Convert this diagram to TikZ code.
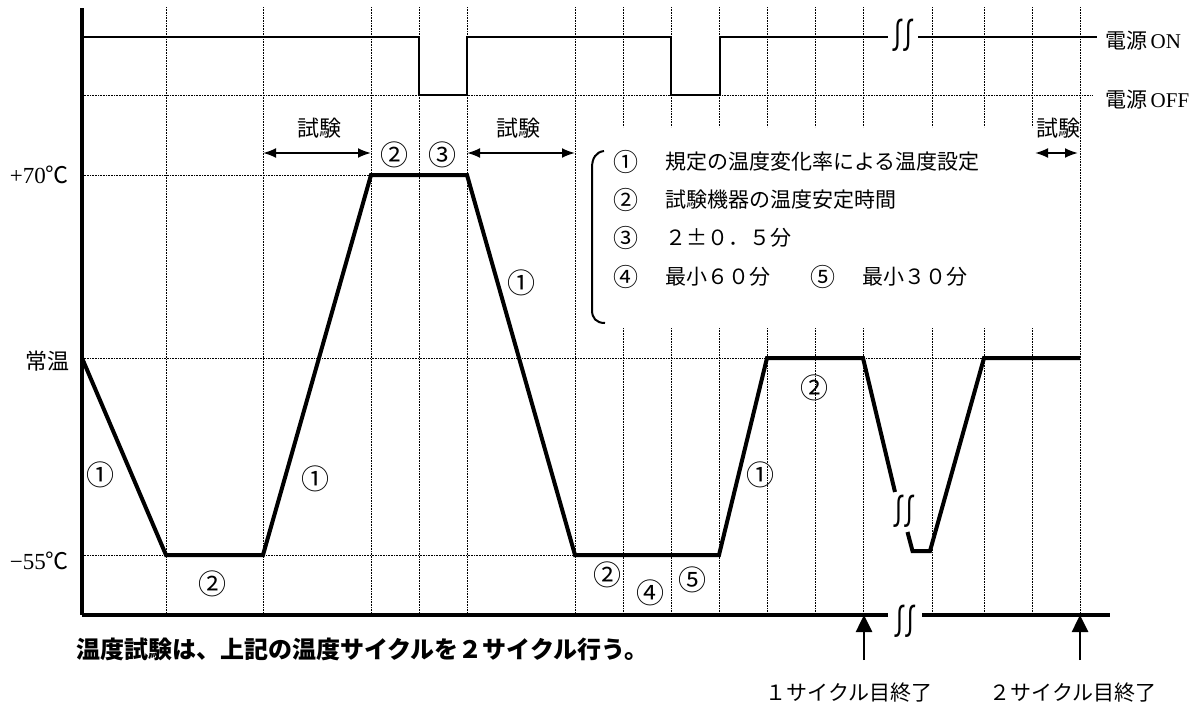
\documentclass[tikz,border=0pt]{standalone}
\usepackage{fontspec}
\setmainfont{Liberation Serif}
\newfontfamily\jp{Noto Sans CJK JP}
\usetikzlibrary{arrows.meta}
\tikzset{
  gridln/.style={line width=0.9pt, dash pattern=on 1pt off 0.6pt, black},
  thk/.style={line width=4pt, line join=miter},
  pwr/.style={line width=2.2pt, line join=miter},
  axisln/.style={line width=3.4pt},
  lbl/.style={inner sep=0pt, font=\jp\fontsize{21}{21}\selectfont},
  circ/.style={inner sep=0pt, font=\jp\fontsize{28}{28}\selectfont},
  lcirc/.style={inner sep=0pt, font=\jp\fontsize{25}{25}\selectfont},
  brk/.style={inner sep=0pt, font=\jp\fontsize{24}{24}\selectfont},
  dbl/.style={line width=2pt, {Latex[length=13pt,width=10pt]}-{Latex[length=13pt,width=10pt]}},
  uparr/.style={line width=2.6pt, -{Triangle[length=17pt,width=16pt]}},
}
\newcommand{\brkmark}{\scalebox{1.15}[1.45]{∬}}
\begin{document}
\begin{tikzpicture}[x=1pt,y=-1pt]
\useasboundingbox (0,0) rectangle (1202,704);
% vertical grid lines
\foreach \gx in {166,263,371,419,467,575,1080}
  \draw[gridln] (\gx,7) -- (\gx,615);
\foreach \gx in {623,671,719,767,815,863,932,984,1032}{
  \draw[gridln] (\gx,7) -- (\gx,127);
  \draw[gridln] (\gx,328) -- (\gx,615);}
% horizontal reference lines
\draw[gridln] (82,95) -- (1093,95);
\draw[gridln] (82,175) -- (371,175);
\draw[gridln] (82,358) -- (1080,358);
\draw[gridln] (82,555) -- (719,555);
% axes
\coordinate (ytop) at (82,8);
\coordinate (org) at (82,615);
\coordinate (xa) at (888,615);
\coordinate (xb) at (922,615);
\coordinate (xend) at (1110,615);
\draw[axisln] (ytop) -- (org);
\draw[axisln] (org) -- (xa);
\draw[axisln] (xb) -- (xend);
\node[brk] (bx) at (905,621) {\brkmark};
% power line
\coordinate (p0) at (82,37);
\coordinate (pa) at (888,37);
\coordinate (pb) at (918,37);
\coordinate (pe) at (1097,37);
\draw[pwr] (p0) -- (419,37) -- (419,95) -- (467,95) -- (467,37) -- (671,37) -- (671,95) -- (720,95) -- (720,37) -- (pa);
\draw[pwr] (pb) -- (pe);
\node[brk] (bp) at (903,35) {\brkmark};
\node[lbl, anchor=west] (on) at (1105,41) {電源\,\fontspec{Liberation Serif}\fontsize{21}{21}\selectfont ON};
\node[lbl, anchor=west] (off) at (1105,100) {電源\,\fontspec{Liberation Serif}\fontsize{21}{21}\selectfont OFF};
% temperature profile
\draw[thk] (82,358) -- (166,555) -- (263,555) -- (371,175) -- (467,175) -- (575,555) -- (719,555) -- (767,358) -- (863,358) -- (895,492);
\draw[thk] (907.5,532) -- (912.5,551) -- (930,551) -- (984,358) -- (1080,358);
\node[brk] (bt) at (904,511) {\brkmark};
% y labels
\node[inner sep=0pt, anchor=east, font=\fontsize{23}{23}\selectfont] (t70) at (69,175) {+70{\jp ℃}};
\node[lbl, anchor=east, font=\jp\fontsize{22}{22}\selectfont] (tn) at (70,361) {常温};
\node[inner sep=0pt, anchor=east, font=\fontsize{23}{23}\selectfont] (t55) at (69,561) {−55{\jp ℃}};
% test arrows
\draw[dbl] (263,153) -- (371,153);
\draw[dbl] (467,153) -- (575,153);
\draw[dbl] (1035,153) -- (1078,153);
\node[lbl, font=\jp\fontsize{22}{22}\selectfont] (s1) at (319,128) {試験};
\node[lbl, font=\jp\fontsize{22}{22}\selectfont] (s2) at (518,128) {試験};
\node[lbl, font=\jp\fontsize{22}{22}\selectfont] (s3) at (1058,128) {試験};
% circled numbers in graph
\node[circ] (c1) at (394,155) {②};
\node[circ] (c2) at (442,155) {③};
\node[circ] (c3) at (100,475) {①};
\node[circ] (c4) at (315,479) {①};
\node[circ] (c5) at (212,584) {②};
\node[circ] (c6) at (521,283) {①};
\node[circ] (c7) at (607,575) {②};
\node[circ] (c8) at (650,593) {④};
\node[circ] (c9) at (692,580) {⑤};
\node[circ] (c10) at (760,475) {①};
\node[circ] (c11) at (814,388) {②};
% legend
\draw[line width=2pt] (604,151) .. controls (596,152) and (592,158) .. (592,168) -- (592,310) .. controls (592,318) and (596,323) .. (605,323);
\node[lcirc] (l1n) at (626,162) {①};
\node[lbl, anchor=west] (l1) at (665,162) {規定の温度変化率による温度設定};
\node[lcirc] (l2n) at (626,200) {②};
\node[lbl, anchor=west] (l2) at (665,200) {試験機器の温度安定時間};
\node[lcirc] (l3n) at (626,238) {③};
\node[lbl, anchor=west] (l3) at (665,238) {２±０．５分};
\node[lcirc] (l4n) at (626,277) {④};
\node[lbl, anchor=west] (l4) at (665,277) {最小６０分};
\node[lcirc] (l5n) at (823,277) {⑤};
\node[lbl, anchor=west] (l5) at (862,277) {最小３０分};
% cycle end arrows
\coordinate (a1s) at (864,660);
\coordinate (a1e) at (864,615);
\coordinate (a2s) at (1080,660);
\coordinate (a2e) at (1080,615);
\draw[uparr] (a1s) -- (a1e);
\draw[uparr] (a2s) -- (a2e);
\node[lbl] (e1) at (849,693) {１サイクル目終了};
\node[lbl] (e2) at (1073,693) {２サイクル目終了};
% bottom note
\node[inner sep=0pt, anchor=west, font=\jp\bfseries\fontsize{24}{24}\selectfont] (note) at (76,649) {温度試験は、上記の温度サイクルを２サイクル行う。};
\end{tikzpicture}
\end{document}
